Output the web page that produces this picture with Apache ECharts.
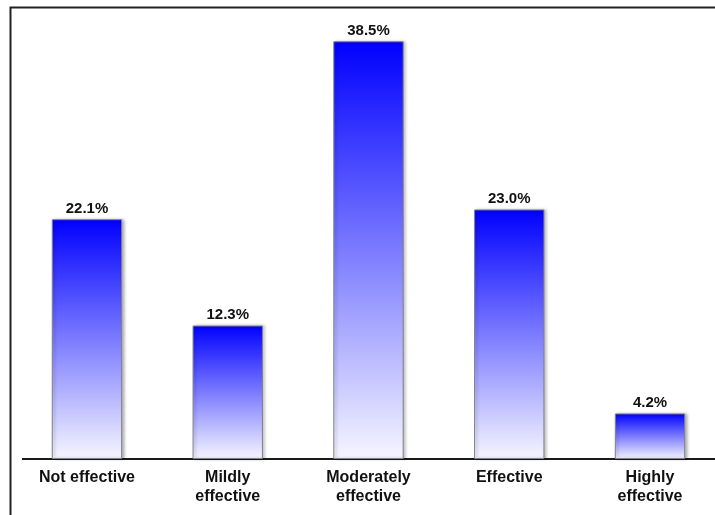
<!DOCTYPE html>
<html>
<head>
<meta charset="utf-8">
<title>Perceived effectiveness</title>
<script src="https://cdn.jsdelivr.net/npm/echarts@6/dist/echarts.min.js"></script>
<style>
  html, body { margin: 0; padding: 0; background: #ffffff; overflow: hidden; }
  #chart { width: 725px; height: 515px; }
</style>
</head>
<body>
<div id="chart"></div>
<script>
// Share of respondents by rated effectiveness (%)
const categories = ['Not effective', 'Mildly\neffective', 'Moderately\neffective', 'Effective', 'Highly\neffective'];
const shares = [22.1, 12.3, 38.5, 23.0, 4.2];

const chart = echarts.init(document.getElementById('chart'), null, { renderer: 'canvas' });

const gridTop = 25;
const gridBottom = 56;
const axisY = 515 - gridBottom;

chart.setOption({
  animation: false,
  backgroundColor: '#ffffff',
  grid: { left: 16.6, width: 703.8, top: gridTop, bottom: gridBottom, containLabel: false },
  xAxis: {
    type: 'category',
    data: categories,
    boundaryGap: true,
    axisLine: { show: false },
    axisTick: { show: false },
    axisLabel: {
      interval: 0,
      margin: 9,
      color: '#111111',
      fontFamily: 'Liberation Sans, Arial, sans-serif',
      fontWeight: 'bold',
      fontSize: 16,
      lineHeight: 19
    }
  },
  yAxis: {
    type: 'value',
    min: 0,
    max: 40,
    show: false,
    splitLine: { show: false }
  },
  series: [{
    type: 'bar',
    data: shares,
    barWidth: '50%',
    itemStyle: {
      color: new echarts.graphic.LinearGradient(0, 0, 0, 1, [
        { offset: 0, color: '#0000ff' },
        { offset: 1, color: '#f6f6ff' }
      ]),
      borderColor: '#80808c',
      borderWidth: 1,
      shadowColor: 'rgba(0,0,0,0.28)',
      shadowBlur: 3,
      shadowOffsetX: 2,
      shadowOffsetY: 0
    },
    label: {
      show: true,
      position: 'top',
      distance: 3,
      formatter: p => p.value.toFixed(1) + '%',
      color: '#111111',
      fontFamily: 'Liberation Sans, Arial, sans-serif',
      fontWeight: 'bold',
      fontSize: 15
    }
  }],
  graphic: [
    // outer frame (top and left edges)
    { type: 'polyline', silent: true,
      shape: { points: [[10.5, 515], [10.5, 7.5], [725, 7.5]] },
      style: { stroke: '#222222', lineWidth: 2, fill: null } },
    // baseline
    { type: 'line', silent: true,
      shape: { x1: 22, y1: axisY, x2: 725, y2: axisY },
      style: { stroke: '#1a1a1a', lineWidth: 2 } }
  ]
});
</script>
</body>
</html>
